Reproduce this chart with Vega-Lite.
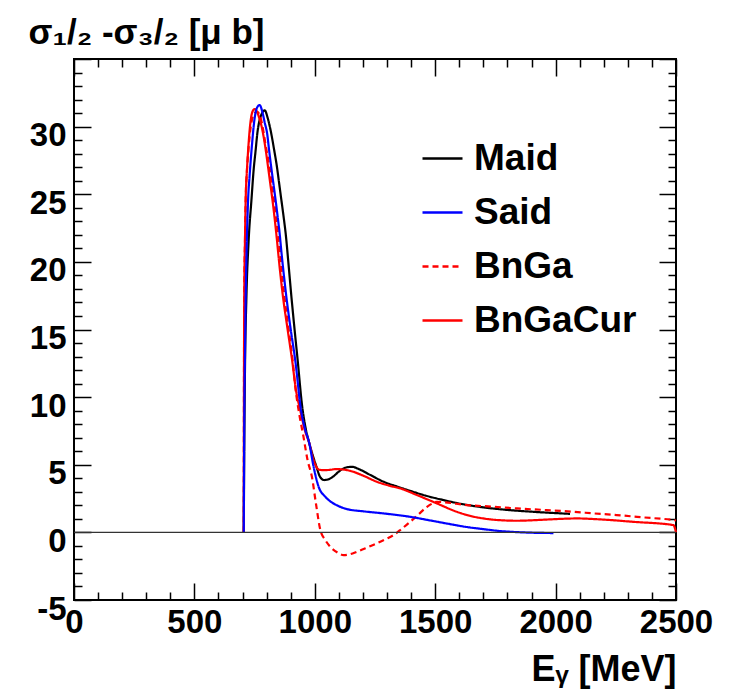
{
  "$schema": "https://vega.github.io/schema/vega-lite/v6.json",
  "width": 602,
  "height": 541,
  "autosize": "none",
  "padding": {"left": 74, "top": 59, "right": 60, "bottom": 100},
  "background": "white",
  "config": {
    "font": "Liberation Sans",
    "view": {"stroke": "black", "strokeWidth": 2},
    "axis": {
      "domain": false,
      "grid": false,
      "tickColor": "black",
      "tickWidth": 1.5,
      "labelFont": "Liberation Sans",
      "labelFontWeight": "bold",
      "labelFontSize": 33,
      "labelColor": "black",
      "titleFont": "Liberation Sans",
      "titleFontWeight": "bold",
      "titleColor": "black"
    }
  },
  "layer": [
    {
      "data": {
        "values": [
          {"model": "Maid", "E": 705, "sigma": 0},
          {"model": "Maid", "E": 707, "sigma": 6},
          {"model": "Maid", "E": 710, "sigma": 12},
          {"model": "Maid", "E": 716, "sigma": 17.4},
          {"model": "Maid", "E": 725, "sigma": 21.5},
          {"model": "Maid", "E": 737, "sigma": 24.6},
          {"model": "Maid", "E": 746, "sigma": 26.8},
          {"model": "Maid", "E": 754, "sigma": 28.2},
          {"model": "Maid", "E": 762, "sigma": 29.6},
          {"model": "Maid", "E": 771, "sigma": 30.5},
          {"model": "Maid", "E": 781, "sigma": 31.0},
          {"model": "Maid", "E": 792, "sigma": 31.2},
          {"model": "Maid", "E": 805, "sigma": 30.6},
          {"model": "Maid", "E": 819, "sigma": 29.5},
          {"model": "Maid", "E": 831, "sigma": 28.3},
          {"model": "Maid", "E": 843, "sigma": 27.0},
          {"model": "Maid", "E": 852, "sigma": 25.8},
          {"model": "Maid", "E": 861, "sigma": 24.6},
          {"model": "Maid", "E": 870, "sigma": 23.4},
          {"model": "Maid", "E": 879, "sigma": 22.1},
          {"model": "Maid", "E": 892, "sigma": 19.6},
          {"model": "Maid", "E": 903, "sigma": 17.4},
          {"model": "Maid", "E": 916, "sigma": 15.0},
          {"model": "Maid", "E": 929, "sigma": 12.7},
          {"model": "Maid", "E": 947, "sigma": 9.4},
          {"model": "Maid", "E": 962, "sigma": 7.7},
          {"model": "Maid", "E": 977, "sigma": 6.6},
          {"model": "Maid", "E": 995, "sigma": 5.5},
          {"model": "Maid", "E": 1006, "sigma": 4.9},
          {"model": "Maid", "E": 1022, "sigma": 4.1},
          {"model": "Maid", "E": 1039, "sigma": 3.87},
          {"model": "Maid", "E": 1060, "sigma": 3.95},
          {"model": "Maid", "E": 1078, "sigma": 4.15},
          {"model": "Maid", "E": 1100, "sigma": 4.5},
          {"model": "Maid", "E": 1130, "sigma": 4.8},
          {"model": "Maid", "E": 1155, "sigma": 4.85},
          {"model": "Maid", "E": 1180, "sigma": 4.7},
          {"model": "Maid", "E": 1230, "sigma": 4.25},
          {"model": "Maid", "E": 1286, "sigma": 3.74},
          {"model": "Maid", "E": 1340, "sigma": 3.4},
          {"model": "Maid", "E": 1396, "sigma": 3.07},
          {"model": "Maid", "E": 1460, "sigma": 2.72},
          {"model": "Maid", "E": 1534, "sigma": 2.39},
          {"model": "Maid", "E": 1610, "sigma": 2.1},
          {"model": "Maid", "E": 1700, "sigma": 1.85},
          {"model": "Maid", "E": 1800, "sigma": 1.66},
          {"model": "Maid", "E": 1908, "sigma": 1.52},
          {"model": "Maid", "E": 2060, "sigma": 1.37},

          {"model": "BnGaCur", "E": 705, "sigma": 0},
          {"model": "BnGaCur", "E": 706, "sigma": 12},
          {"model": "BnGaCur", "E": 707, "sigma": 17.4},
          {"model": "BnGaCur", "E": 710, "sigma": 21.5},
          {"model": "BnGaCur", "E": 713, "sigma": 24.6},
          {"model": "BnGaCur", "E": 718, "sigma": 26.7},
          {"model": "BnGaCur", "E": 723, "sigma": 28.2},
          {"model": "BnGaCur", "E": 732, "sigma": 30.2},
          {"model": "BnGaCur", "E": 741, "sigma": 31.1},
          {"model": "BnGaCur", "E": 750, "sigma": 31.3},
          {"model": "BnGaCur", "E": 760, "sigma": 31.1},
          {"model": "BnGaCur", "E": 770, "sigma": 30.6},
          {"model": "BnGaCur", "E": 778, "sigma": 30.1},
          {"model": "BnGaCur", "E": 785, "sigma": 29.5},
          {"model": "BnGaCur", "E": 796, "sigma": 28.3},
          {"model": "BnGaCur", "E": 806, "sigma": 27.0},
          {"model": "BnGaCur", "E": 815, "sigma": 25.8},
          {"model": "BnGaCur", "E": 824, "sigma": 24.6},
          {"model": "BnGaCur", "E": 840, "sigma": 22.1},
          {"model": "BnGaCur", "E": 854, "sigma": 19.6},
          {"model": "BnGaCur", "E": 868, "sigma": 17.4},
          {"model": "BnGaCur", "E": 888, "sigma": 14.9},
          {"model": "BnGaCur", "E": 906, "sigma": 12.7},
          {"model": "BnGaCur", "E": 922, "sigma": 10.5},
          {"model": "BnGaCur", "E": 940, "sigma": 9.0},
          {"model": "BnGaCur", "E": 958, "sigma": 7.6},
          {"model": "BnGaCur", "E": 977, "sigma": 6.6},
          {"model": "BnGaCur", "E": 995, "sigma": 5.34},
          {"model": "BnGaCur", "E": 1005, "sigma": 4.9},
          {"model": "BnGaCur", "E": 1016, "sigma": 4.65},
          {"model": "BnGaCur", "E": 1035, "sigma": 4.6},
          {"model": "BnGaCur", "E": 1060, "sigma": 4.62},
          {"model": "BnGaCur", "E": 1090, "sigma": 4.68},
          {"model": "BnGaCur", "E": 1115, "sigma": 4.65},
          {"model": "BnGaCur", "E": 1147, "sigma": 4.55},
          {"model": "BnGaCur", "E": 1200, "sigma": 4.2},
          {"model": "BnGaCur", "E": 1258, "sigma": 3.74},
          {"model": "BnGaCur", "E": 1310, "sigma": 3.45},
          {"model": "BnGaCur", "E": 1355, "sigma": 3.25},
          {"model": "BnGaCur", "E": 1424, "sigma": 2.76},
          {"model": "BnGaCur", "E": 1507, "sigma": 2.14},
          {"model": "BnGaCur", "E": 1590, "sigma": 1.52},
          {"model": "BnGaCur", "E": 1650, "sigma": 1.2},
          {"model": "BnGaCur", "E": 1700, "sigma": 1.03},
          {"model": "BnGaCur", "E": 1770, "sigma": 0.9},
          {"model": "BnGaCur", "E": 1839, "sigma": 0.86},
          {"model": "BnGaCur", "E": 1910, "sigma": 0.9},
          {"model": "BnGaCur", "E": 1977, "sigma": 0.96},
          {"model": "BnGaCur", "E": 2088, "sigma": 1.03},
          {"model": "BnGaCur", "E": 2185, "sigma": 0.96},
          {"model": "BnGaCur", "E": 2323, "sigma": 0.78},
          {"model": "BnGaCur", "E": 2489, "sigma": 0.54},
          {"model": "BnGaCur", "E": 2500, "sigma": 0},

          {"model": "BnGa", "E": 705, "sigma": 0},
          {"model": "BnGa", "E": 706, "sigma": 12},
          {"model": "BnGa", "E": 707, "sigma": 17.4},
          {"model": "BnGa", "E": 710, "sigma": 21.5},
          {"model": "BnGa", "E": 713, "sigma": 24.6},
          {"model": "BnGa", "E": 718, "sigma": 26.7},
          {"model": "BnGa", "E": 724, "sigma": 28.2},
          {"model": "BnGa", "E": 734, "sigma": 30.0},
          {"model": "BnGa", "E": 750, "sigma": 31.0},
          {"model": "BnGa", "E": 762, "sigma": 31.1},
          {"model": "BnGa", "E": 772, "sigma": 30.8},
          {"model": "BnGa", "E": 781, "sigma": 30.2},
          {"model": "BnGa", "E": 796, "sigma": 28.6},
          {"model": "BnGa", "E": 812, "sigma": 27.0},
          {"model": "BnGa", "E": 830, "sigma": 24.6},
          {"model": "BnGa", "E": 847, "sigma": 22.1},
          {"model": "BnGa", "E": 860, "sigma": 19.8},
          {"model": "BnGa", "E": 874, "sigma": 17.4},
          {"model": "BnGa", "E": 890, "sigma": 15.2},
          {"model": "BnGa", "E": 908, "sigma": 12.7},
          {"model": "BnGa", "E": 920, "sigma": 10.6},
          {"model": "BnGa", "E": 933, "sigma": 9.0},
          {"model": "BnGa", "E": 953, "sigma": 7.07},
          {"model": "BnGa", "E": 970, "sigma": 5.34},
          {"model": "BnGa", "E": 988, "sigma": 4.11},
          {"model": "BnGa", "E": 1005, "sigma": 2.1},
          {"model": "BnGa", "E": 1023, "sigma": 0.17},
          {"model": "BnGa", "E": 1043, "sigma": -0.55},
          {"model": "BnGa", "E": 1064, "sigma": -1.06},
          {"model": "BnGa", "E": 1095, "sigma": -1.5},
          {"model": "BnGa", "E": 1120, "sigma": -1.68},
          {"model": "BnGa", "E": 1145, "sigma": -1.62},
          {"model": "BnGa", "E": 1175, "sigma": -1.43},
          {"model": "BnGa", "E": 1220, "sigma": -1.1},
          {"model": "BnGa", "E": 1258, "sigma": -0.81},
          {"model": "BnGa", "E": 1295, "sigma": -0.5},
          {"model": "BnGa", "E": 1327, "sigma": -0.2},
          {"model": "BnGa", "E": 1360, "sigma": 0.25},
          {"model": "BnGa", "E": 1396, "sigma": 0.78},
          {"model": "BnGa", "E": 1430, "sigma": 1.32},
          {"model": "BnGa", "E": 1466, "sigma": 1.89},
          {"model": "BnGa", "E": 1490, "sigma": 2.15},
          {"model": "BnGa", "E": 1507, "sigma": 2.26},
          {"model": "BnGa", "E": 1540, "sigma": 2.22},
          {"model": "BnGa", "E": 1631, "sigma": 2.02},
          {"model": "BnGa", "E": 1739, "sigma": 1.9},
          {"model": "BnGa", "E": 1839, "sigma": 1.77},
          {"model": "BnGa", "E": 1960, "sigma": 1.65},
          {"model": "BnGa", "E": 2074, "sigma": 1.52},
          {"model": "BnGa", "E": 2160, "sigma": 1.4},
          {"model": "BnGa", "E": 2254, "sigma": 1.28},
          {"model": "BnGa", "E": 2370, "sigma": 1.1},
          {"model": "BnGa", "E": 2489, "sigma": 0.91},
          {"model": "BnGa", "E": 2500, "sigma": 0.88},

          {"model": "Said", "E": 705, "sigma": 0},
          {"model": "Said", "E": 707, "sigma": 8},
          {"model": "Said", "E": 710, "sigma": 13},
          {"model": "Said", "E": 713, "sigma": 17.4},
          {"model": "Said", "E": 717, "sigma": 21},
          {"model": "Said", "E": 723, "sigma": 24.6},
          {"model": "Said", "E": 729, "sigma": 26.3},
          {"model": "Said", "E": 737, "sigma": 28.2},
          {"model": "Said", "E": 750, "sigma": 30.6},
          {"model": "Said", "E": 760, "sigma": 31.4},
          {"model": "Said", "E": 771, "sigma": 31.6},
          {"model": "Said", "E": 782, "sigma": 31.1},
          {"model": "Said", "E": 792, "sigma": 30.3},
          {"model": "Said", "E": 802, "sigma": 29.5},
          {"model": "Said", "E": 810, "sigma": 28.3},
          {"model": "Said", "E": 819, "sigma": 27.0},
          {"model": "Said", "E": 828, "sigma": 25.8},
          {"model": "Said", "E": 837, "sigma": 24.6},
          {"model": "Said", "E": 846, "sigma": 23.3},
          {"model": "Said", "E": 854, "sigma": 22.1},
          {"model": "Said", "E": 861, "sigma": 20.8},
          {"model": "Said", "E": 868, "sigma": 19.6},
          {"model": "Said", "E": 882, "sigma": 17.4},
          {"model": "Said", "E": 900, "sigma": 15.0},
          {"model": "Said", "E": 919, "sigma": 12.7},
          {"model": "Said", "E": 943, "sigma": 9.0},
          {"model": "Said", "E": 960, "sigma": 7.6},
          {"model": "Said", "E": 977, "sigma": 6.6},
          {"model": "Said", "E": 995, "sigma": 4.85},
          {"model": "Said", "E": 1016, "sigma": 3.37},
          {"model": "Said", "E": 1044, "sigma": 2.63},
          {"model": "Said", "E": 1064, "sigma": 2.3},
          {"model": "Said", "E": 1092, "sigma": 2.0},
          {"model": "Said", "E": 1134, "sigma": 1.72},
          {"model": "Said", "E": 1200, "sigma": 1.56},
          {"model": "Said", "E": 1286, "sigma": 1.4},
          {"model": "Said", "E": 1396, "sigma": 1.15},
          {"model": "Said", "E": 1480, "sigma": 0.88},
          {"model": "Said", "E": 1562, "sigma": 0.61},
          {"model": "Said", "E": 1630, "sigma": 0.4},
          {"model": "Said", "E": 1700, "sigma": 0.24},
          {"model": "Said", "E": 1770, "sigma": 0.1},
          {"model": "Said", "E": 1839, "sigma": 0.02},
          {"model": "Said", "E": 1910, "sigma": -0.03},
          {"model": "Said", "E": 1991, "sigma": -0.05}
        ]
      },
      "mark": {"type": "line", "strokeWidth": 2.2, "interpolate": "monotone"},
      "encoding": {
        "x": {
          "field": "E",
          "type": "quantitative",
          "scale": {"domain": [0, 2500], "nice": false, "zero": false},
          "axis": {
            "orient": "bottom",
            "values": [0,100,200,300,400,500,600,700,800,900,1000,1100,1200,1300,1400,1500,1600,1700,1800,1900,2000,2100,2200,2300,2400,2500],
            "labelExpr": "datum.value % 500 === 0 ? '' + datum.value : ''",
            "tickSize": {"condition": {"test": "datum.value % 500 === 0", "value": -17}, "value": -8},
            "labelPadding": 23,
            "labelFlush": false,
            "labelOverlap": false,
            "title": "Eᵧ [MeV]",
            "titleFontSize": 36,
            "titleAnchor": "end",
            "titleAlign": "right",
            "titleBaseline": "alphabetic",
            "titleX": 602,
            "titleY": 80
          }
        },
        "y": {
          "field": "sigma",
          "type": "quantitative",
          "scale": {"domain": [-5, 35], "nice": false, "zero": false},
          "axis": {
            "orient": "left",
            "values": [-5,-4,-3,-2,-1,0,1,2,3,4,5,6,7,8,9,10,11,12,13,14,15,16,17,18,19,20,21,22,23,24,25,26,27,28,29,30,31,32,33,34,35],
            "labelExpr": "(datum.value % 5 === 0 && datum.value !== 35) ? '' + datum.value : ''",
            "tickSize": {"condition": {"test": "datum.value % 5 === 0", "value": -17}, "value": -8},
            "labelPadding": 25,
            "labelOffset": 9,
            "labelFlush": false,
            "labelOverlap": false,
            "title": "σ₁/₂ -σ₃/₂ [μ b]",
            "titleFontSize": 35,
            "titleAngle": 0,
            "titleAlign": "left",
            "titleBaseline": "alphabetic",
            "titleX": -46,
            "titleY": -16
          }
        },
        "color": {
          "field": "model",
          "type": "nominal",
          "scale": {"domain": ["Maid", "Said", "BnGa", "BnGaCur"], "range": ["#000000", "#0000ff", "#ff0000", "#ff0000"]},
          "legend": {
            "orient": "none", "legendX": 347, "legendY": 78, "title": null,
            "symbolType": "stroke", "symbolSize": 1600, "symbolStrokeWidth": 2.5,
            "labelFontSize": 37, "labelFont": "Liberation Sans", "labelFontWeight": "bold", "labelColor": "black",
            "labelOffset": 10, "labelLimit": 400, "rowPadding": 14, "padding": 0
          }
        },
        "strokeDash": {
          "field": "model",
          "type": "nominal",
          "scale": {"domain": ["Maid", "Said", "BnGa", "BnGaCur"], "range": [[1, 0], [1, 0], [6, 4], [1, 0]]},
          "legend": {
            "orient": "none", "legendX": 347, "legendY": 78, "title": null,
            "symbolType": "stroke", "symbolSize": 1600, "symbolStrokeWidth": 2.5,
            "labelFontSize": 37, "labelFont": "Liberation Sans", "labelFontWeight": "bold", "labelColor": "black",
            "labelOffset": 10, "labelLimit": 400, "rowPadding": 14, "padding": 0
          }
        }
      }
    },
    {
      "data": {"values": [{"line": "zero"}]},
      "mark": {"type": "rule", "color": "#333333", "strokeWidth": 1.2},
      "encoding": {
        "x": {
          "datum": 0,
          "type": "quantitative",
          "scale": {"domain": [0, 2500], "nice": false, "zero": false},
          "axis": {
            "orient": "top",
            "values": [0,100,200,300,400,500,600,700,800,900,1000,1100,1200,1300,1400,1500,1600,1700,1800,1900,2000,2100,2200,2300,2400,2500],
            "labels": false,
            "title": null,
            "tickSize": {"condition": {"test": "datum.value % 500 === 0", "value": -17}, "value": -8}
          }
        },
        "x2": {"datum": 2500},
        "y": {
          "datum": 0,
          "type": "quantitative",
          "scale": {"domain": [-5, 35], "nice": false, "zero": false},
          "axis": {
            "orient": "right",
            "values": [-5,-4,-3,-2,-1,0,1,2,3,4,5,6,7,8,9,10,11,12,13,14,15,16,17,18,19,20,21,22,23,24,25,26,27,28,29,30,31,32,33,34,35],
            "labels": false,
            "title": null,
            "tickSize": {"condition": {"test": "datum.value % 5 === 0", "value": -17}, "value": -8}
          }
        }
      }
    }
  ],
  "resolve": {"axis": {"x": "independent", "y": "independent"}}
}
